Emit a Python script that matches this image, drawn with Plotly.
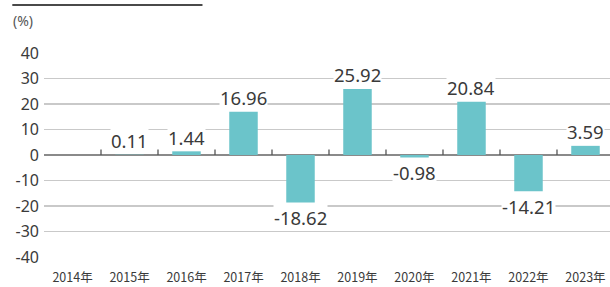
import plotly.graph_objects as go

years = ["2014年", "2015年", "2016年", "2017年", "2018年", "2019年", "2020年", "2021年", "2022年", "2023年"]
returns = [None, 0.11, 1.44, 16.96, -18.62, 25.92, -0.98, 20.84, -14.21, 3.59]
value_labels = ["", "0.11", "1.44", "16.96", "-18.62", "25.92", "-0.98", "20.84", "-14.21", "3.59"]
y_ticks = [40, 30, 20, 10, 0, -10, -20, -30, -40]
y_tick_text = ["40", "30", "20", "10", "0", "-10", "-20", "-30", "-40"]

BAR = "#6BC4CA"
TXT = "#3a3a3a"

# category boundaries (between neighbouring years) for the small ticks on the zero line
boundaries = [i + 0.5 for i in range(len(years) - 1)]

fig = go.Figure()
fig.add_trace(go.Bar(x=years, y=returns, marker=dict(color=BAR, line=dict(width=0)),
                     width=0.5, hoverinfo="skip"))
fig.add_trace(go.Scatter(x=boundaries, y=[0] * len(boundaries), xaxis="x2", mode="markers",
                         marker=dict(opacity=0, size=1), hoverinfo="skip",
                         error_y=dict(type="data", symmetric=False,
                                      array=[2.2] * len(boundaries),
                                      arrayminus=[0] * len(boundaries),
                                      width=0, thickness=1.3, color="#555")))

for yr, v, lab in zip(years, returns, value_labels):
    if v is None:
        continue
    fig.add_annotation(x=yr, y=v, text=lab, showarrow=False,
                       yshift=14 if v >= 0 else -15,
                       font=dict(family="Noto Sans", size=18.5, color=TXT),
                       bgcolor="white", borderpad=0)

fig.add_annotation(xref="paper", yref="paper", x=-0.058, y=1.16, xanchor="left", yanchor="middle",
                   text="(%)", showarrow=False, font=dict(family="Noto Sans", size=14, color="#555"))
fig.add_shape(type="line", xref="paper", yref="paper", x0=-0.056, x1=0.28, y0=1.235, y1=1.235,
              line=dict(color="#4a4a4a", width=2))

fig.update_layout(
    width=610, height=287,
    margin=dict(l=44, r=0, t=53, b=30, autoexpand=False),
    paper_bgcolor="white", plot_bgcolor="white",
    showlegend=False, hovermode=False,
    xaxis=dict(type="category", categoryarray=years, range=[-0.5, 9.43],
               showgrid=False, showline=False, zeroline=False, ticks="",
               ticklabelstandoff=11, automargin=False,
               tickfont=dict(family="Noto Sans CJK JP", size=12.5, color=TXT)),
    xaxis2=dict(type="linear", range=[-0.5, 9.43], overlaying="x", anchor="y",
                visible=False, automargin=False),
    yaxis=dict(range=[-40, 40], tickvals=y_ticks, ticktext=y_tick_text,
               showgrid=True, gridcolor="#c9c9c9",
               gridwidth=1.5, zeroline=True, zerolinecolor="#8a8a8a", zerolinewidth=2,
               showline=False, ticks="", ticklabelstandoff=4, automargin=False,
               tickfont=dict(family="Noto Sans", size=16, color=TXT)),
)

fig.write_html("out.html",
               config={"displayModeBar": False, "staticPlot": True},
               post_script="document.body.style.margin='0';document.body.style.padding='0';")
